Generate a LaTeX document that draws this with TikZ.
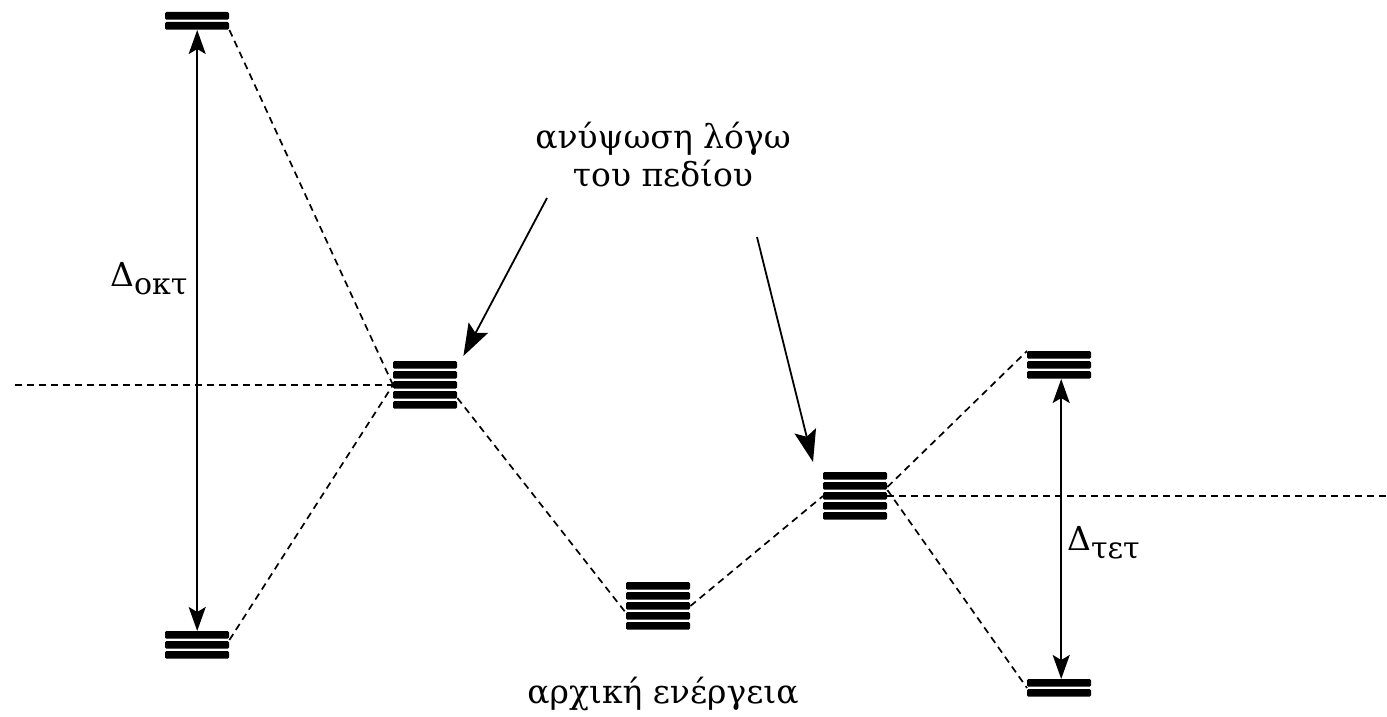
\documentclass[tikz,border=0pt]{standalone}
\usepackage{fontspec}
\setmainfont{DejaVu Serif}[Script=Greek]
\usetikzlibrary{arrows.meta,calc}

% a stack of degenerate levels: name, left x, top y, number of bars
\newcommand\levelstack[4]{%
  \foreach \k in {1,...,#4}
    \fill[bar] (#2,{#3+(\k-1)*10}) rectangle ++(64,7.6);
  \node[inner sep=0pt, minimum width=64pt, minimum height={(#4*10-2.4)*1pt},
        anchor=north west] (#1) at (#2,#3) {};
}

\tikzset{
  bar/.style={fill=black, rounded corners=1.3pt},
  lvl/.style={line width=1.7pt, dash pattern=on 7pt off 5pt},
  gap/.style={{Stealth[length=24pt,width=17pt,inset=5pt]}-{Stealth[length=24pt,width=17pt,inset=5pt]}, line width=1.8pt},
  ptr/.style={-{Stealth[length=32pt,width=22pt,inset=6pt]}, line width=1.8pt},
  lbl/.style={font=\rmfamily\fontsize{33}{33}\selectfont, inner sep=0pt},
  note/.style={font=\rmfamily\fontsize{33}{33}\selectfont, inner sep=0pt}
}

\begin{document}
\begin{tikzpicture}[x=1pt, y=-1pt]
  \useasboundingbox (0,0) rectangle (1387,717);

  % octahedral splitting (left)
  \levelstack{A}{165}{12}{2}
  \levelstack{B}{165}{631}{3}
  \levelstack{C}{393}{361}{5}
  % spherical field and tetrahedral splitting (right)
  \levelstack{D}{626}{582}{5}
  \levelstack{E}{823}{472}{5}
  \levelstack{F}{1027}{351}{3}
  \levelstack{G}{1027}{679}{2}

  \coordinate (ref-l) at (15,385);
  \coordinate (ref-r) at (1387,496);

  % correlation lines
  \draw[lvl] (ref-l) -- (C.west);
  \draw[lvl] (A.south east) -- (C.west);
  \draw[lvl] ($(B.north east)+(0,9)$) -- (C.west);
  \draw[lvl] ($(C.east)+(0,13)$) -- ($(D.west)+(0,7)$);
  \draw[lvl] (D.east) -- (E.west);
  \draw[lvl] ($(E.east)+(0,-9)$) -- (F.north west);
  \draw[lvl] ($(E.east)+(0,-6)$) -- (G.west);
  \draw[lvl] (E.east) -- (ref-r);

  % splitting energies
  \draw[gap] (A.south) -- (B.north);
  \draw[gap] ($(F.south)+(2,0)$) -- ($(G.north)+(2,0)$);
  \node[lbl, anchor=base west] (doct) at (110,286)
    {Δ\raisebox{-8pt}{\fontsize{30}{30}\selectfont οκτ}};
  \node[lbl, anchor=base west] (dtet) at (1067,550)
    {Δ\raisebox{-8pt}{\fontsize{30}{30}\selectfont τετ}};

  % annotations
  \node[note, align=center, anchor=base] (rise) at (663,186)
    {ανύψωση λόγω\\[3pt]του πεδίου};
  \coordinate (rise-a) at (547,198);
  \coordinate (rise-b) at (757,237);
  \draw[ptr] (rise-a) -- ($(C.north east)+(6,-5)$);
  \draw[ptr] (rise-b) -- ($(E.north west)+(-10,-10)$);

  \node[note, anchor=base] (init) at (663,703) {αρχική ενέργεια};
\end{tikzpicture}
\end{document}
